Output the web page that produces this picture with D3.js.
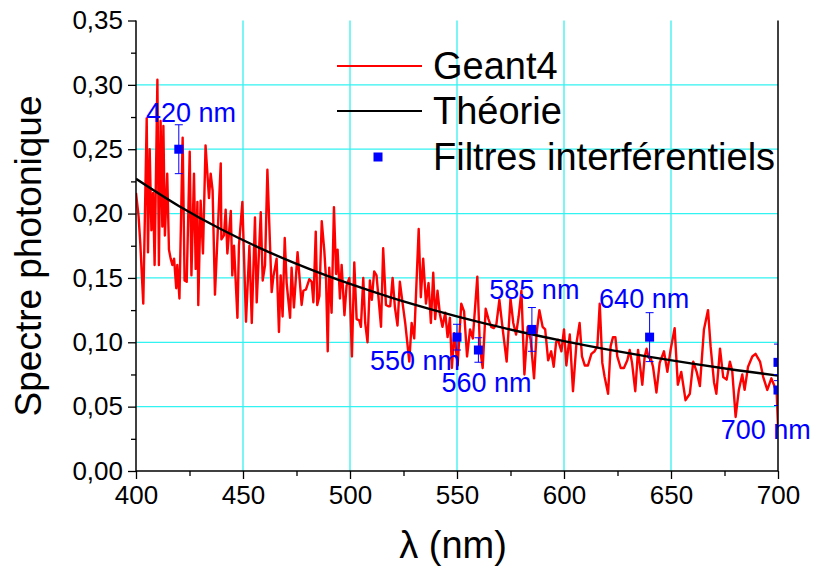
<!DOCTYPE html>
<html><head><meta charset="utf-8">
<script src="https://cdn.jsdelivr.net/npm/d3@7"></script>
<style>body{margin:0;background:#fff}svg{display:block;font-family:"Liberation Sans",Arial,sans-serif}</style>
</head><body><svg id="c" width="816" height="574"></svg>
<script>
const geantX = [400,401.2,402,403.4,405,405.6,406.4,407.2,408,408.7,410,410.7,411.5,412.3,412.8,413.5,414.6,415.4,416.2,417,417.8,418.8,419.3,420.3,421.8,422.7,423.7,425.1,425.9,427.1,427.9,428.7,429.1,430.2,431.3,432.5,434.1,434.9,435.8,436.9,439.6,439.9,441.1,441.9,442.7,444.3,445,445.8,447.4,448.1,449.7,451.4,453,454.1,455.6,456.4,458.3,459.2,460.3,461.4,463.4,464.2,465.7,466.8,467.6,468.5,469.5,470.4,472,472.7,473.8,475.5,477.4,478.2,479.4,481,482.1,482.9,484,484.7,485.7,486.8,488,488.8,489.6,490.3,491.4,492.5,493.5,494.2,495.3,496.1,497.4,498.4,499.7,500.9,502,503.1,504.3,505.1,506.2,507.1,508.2,509.3,510.2,511.3,512.4,513.4,514.5,515.5,516.8,517.9,518.8,519.9,521,522.2,523.3,524.6,525.8,527.7,528.8,530,532.1,533.1,534.2,535.5,536.7,537.8,538.9,539.8,540.9,542,543.2,544.5,545.6,546.7,547.6,548.7,550.3,552,553.3,554.7,556.1,557.4,559.5,560.7,562,563.4,564.7,566,567.2,568.4,569.8,571.3,573.2,575,576.3,577.6,578.8,580.1,581.5,583,584.4,586,587.2,588.5,590,591.2,592.6,594,595.2,596.3,597.2,598.8,600,601.1,602.7,604.2,605.8,607.3,608.4,609.7,611.2,612.8,614.3,615.6,616.7,617.9,619,620.6,621.8,622.9,624,624.9,626.5,628,629.6,630.7,631.8,633.3,634.6,635.8,636.6,637.7,638.6,639.6,640.5,641.6,643.2,644.7,646.7,648.3,649.8,651.7,653.2,654.8,656.8,658.8,660.4,662,663.5,665.4,667.3,668.5,670.1,671.2,672.9,674.4,676,677.5,678.6,680.2,681.7,683.3,684.4,686,688,689.5,691.6,693.1,695,696.9,698.1,699.4,700];
const geantY = [.216,.198,.177,.130,.274,.170,.250,.187,.216,.160,.304,.160,.272,.190,.268,.183,.231,.172,.165,.160,.165,.142,.160,.134,.259,.148,.147,.248,.152,.231,.157,.209,.129,.210,.169,.253,.212,.231,.218,.137,.239,.180,.183,.203,.169,.202,.152,.175,.119,.175,.209,.116,.175,.115,.197,.131,.201,.148,.160,.234,.139,.151,.165,.108,.152,.120,.181,.146,.119,.158,.127,.170,.129,.140,.141,.149,.147,.131,.186,.129,.136,.194,.171,.149,.093,.158,.123,.205,.153,.172,.134,.160,.121,.144,.150,.089,.162,.118,.117,.112,.150,.115,.100,.148,.133,.155,.152,.133,.112,.173,.129,.128,.128,.150,.127,.113,.147,.130,.115,.085,.115,.103,.188,.135,.165,.130,.146,.115,.154,.118,.140,.122,.112,.123,.104,.119,.080,.107,.082,.130,.124,.089,.110,.103,.151,.096,.080,.126,.118,.112,.111,.114,.133,.111,.085,.134,.115,.106,.120,.140,.075,.112,.102,.072,.107,.125,.112,.110,.086,.093,.081,.100,.102,.093,.110,.082,.106,.062,.099,.115,.089,.082,.082,.091,.093,.097,.130,.084,.073,.060,.097,.104,.104,.089,.080,.080,.086,.094,.084,.062,.094,.078,.067,.089,.095,.088,.088,.081,.061,.084,.093,.077,.094,.111,.067,.077,.055,.060,.085,.077,.066,.110,.125,.097,.069,.060,.095,.073,.071,.085,.078,.042,.063,.075,.063,.081,.089,.091,.085,.073,.063,.072,.067,.060,.035];

const theoryX = [400,420,440,460,480,500,520,540,560,580,600,620,640,660,680,700];
const theoryY = [0.2270,0.2059,0.1876,0.1716,0.1576,0.1453,0.1343,0.1246,0.1158,0.1080,0.1009,0.0945,0.0887,0.0834,0.0785,0.0741];

const filterX = [420,550,560,585,640,700,700];
const filterY = [0.250,0.104,0.094,0.110,0.104,0.0844,0.0629];
const filterErr = [0.019,0.010,0.0095,0.017,0.019,0.0142,0.012];

const labelText = ["420 nm","550 nm","560 nm","585 nm","640 nm","700 nm"];
const labelX = [404.7,509.3,542.7,565.1,616.4,673.2];
const labelY = [0.271,0.0784,0.0612,0.134,0.127,0.0249];

const xTicks = [400,450,500,550,600,650,700];
const yTicks = [0,0.05,0.10,0.15,0.20,0.25,0.30,0.35];
const yTickLabels = ["0,00","0,05","0,10","0,15","0,20","0,25","0,30","0,35"];
const legendNames = ["Geant4","Théorie","Filtres interférentiels"];

const svg = d3.select("#c");
const L=136, R=778, T=20.5, B=471;
const x = d3.scaleLinear().domain([400,700]).range([L,R]);
const y = d3.scaleLinear().domain([0,0.35]).range([B,T]);
const grid = "#33f2f2";

svg.append("defs").append("clipPath").attr("id","clip")
  .append("rect").attr("x",L).attr("y",T-5).attr("width",R-L).attr("height",B-T+5);

// grid
svg.append("g").selectAll("line").data(xTicks.slice(1,-1)).join("line")
  .attr("x1",d=>x(d)).attr("x2",d=>x(d)).attr("y1",T).attr("y2",B)
  .attr("stroke",grid).attr("stroke-width",1.3);
svg.append("g").selectAll("line").data(yTicks.slice(1,-1)).join("line")
  .attr("x1",L).attr("x2",R).attr("y1",d=>y(d)).attr("y2",d=>y(d))
  .attr("stroke",grid).attr("stroke-width",1.3);

// legend
const lg = svg.append("g").style("font-size","38px");
const legY = [66,111,157];
lg.append("line").attr("x1",337).attr("x2",422).attr("y1",legY[0]).attr("y2",legY[0]).attr("stroke","#ff0000").attr("stroke-width",2);
lg.append("line").attr("x1",337).attr("x2",422).attr("y1",legY[1]).attr("y2",legY[1]).attr("stroke","#000").attr("stroke-width",2);
lg.append("rect").attr("x",373.5).attr("y",legY[2]-4.5).attr("width",9).attr("height",9).attr("fill","#0000ff");
lg.selectAll("text").data(legendNames).join("text")
  .attr("x",433).attr("y",(d,i)=>legY[i]+13).text(d=>d).attr("fill","#000");

// data
const dg = svg.append("g").attr("clip-path","url(#clip)");
dg.append("path").datum(geantX.map((v,i)=>[v,geantY[i]]))
  .attr("d",d3.line().x(d=>x(d[0])).y(d=>y(d[1])))
  .attr("fill","none").attr("stroke","#ff0000").attr("stroke-width",2.4).attr("stroke-linejoin","round");
dg.append("path").datum(theoryX.map((v,i)=>[v,theoryY[i]]))
  .attr("d",d3.line().x(d=>x(d[0])).y(d=>y(d[1])).curve(d3.curveCatmullRom))
  .attr("fill","none").attr("stroke","#000").attr("stroke-width",2.4);
const eb = dg.append("g").attr("stroke","#0000ff").attr("stroke-width",1);
filterX.forEach((v,i)=>{
  const cx=x(v), y1=y(filterY[i]+filterErr[i]), y2=y(filterY[i]-filterErr[i]);
  eb.append("line").attr("x1",cx).attr("x2",cx).attr("y1",y1).attr("y2",y2);
  eb.append("line").attr("x1",cx-4).attr("x2",cx+4).attr("y1",y1).attr("y2",y1);
  eb.append("line").attr("x1",cx-4).attr("x2",cx+4).attr("y1",y2).attr("y2",y2);
});
dg.append("g").selectAll("rect").data(filterX).join("rect")
  .attr("x",d=>x(d)-4.5).attr("y",(d,i)=>y(filterY[i])-4.5).attr("width",9).attr("height",9).attr("fill","#0000ff");

// labels
svg.append("g").selectAll("text").data(labelText).join("text")
  .attr("x",(d,i)=>x(labelX[i])).attr("y",(d,i)=>y(labelY[i]))
  .attr("text-anchor","start").attr("fill","#0000ff").style("font-size","27px").text(d=>d);

// axes
const ax = svg.append("g").attr("transform",`translate(0,${B})`)
  .call(d3.axisBottom(x).tickValues(xTicks).tickSize(8).tickPadding(7).tickFormat(d3.format("d")));
ax.append("g").call(d3.axisBottom(x).tickValues(d3.range(425,700,50)).tickSize(5).tickFormat(""));
const ay = svg.append("g").attr("transform",`translate(${L},0)`)
  .call(d3.axisLeft(y).tickValues(yTicks).tickSize(8).tickPadding(5).tickFormat((d,i)=>yTickLabels[i]));
ay.append("g").call(d3.axisLeft(y).tickValues(d3.range(0.025,0.35,0.05)).tickSize(5).tickFormat(""));
[ax,ay].forEach(g=>{
  g.selectAll(".domain").attr("stroke","#000").attr("stroke-width",1.5);
  g.selectAll(".tick line").attr("stroke","#000").attr("stroke-width",1.3);
  g.selectAll("text").attr("fill","#000").style("font-size","26px").style("font-family","'Liberation Sans',Arial,sans-serif");
  g.selectAll(".domain").filter(function(){return this.parentNode!==g.node();}).remove();
});
ax.select(".domain").attr("d",`M${L},0H${R}`);
ay.select(".domain").attr("d",`M0,${T}V${B}`);
svg.append("line").attr("x1",R).attr("x2",R).attr("y1",T).attr("y2",B).attr("stroke","#000").attr("stroke-width",1.5);

// axis titles
svg.append("text").attr("x",453).attr("y",558).attr("text-anchor","middle").style("font-size","38px").text("λ (nm)");
svg.append("text").attr("transform","translate(41,256) rotate(-90)").attr("text-anchor","middle").style("font-size","37px").text("Spectre photonique");
</script></body></html>
